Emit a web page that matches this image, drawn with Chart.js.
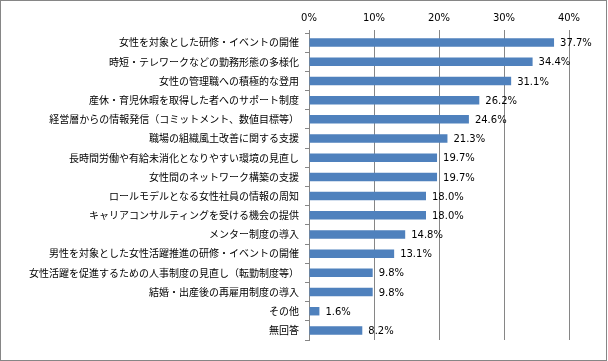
<!DOCTYPE html>
<html lang="ja">
<head>
<meta charset="utf-8">
<title>女性活躍推進の取組</title>
<script src="https://cdn.jsdelivr.net/npm/chart.js@4/dist/chart.umd.min.js"></script>
<style>
    html, body { margin: 0; padding: 0; background: #ffffff; }
    .chart-box {
        width: 607px;
        height: 361px;
        border: 1px solid #868686;
        box-sizing: border-box;
        background: #ffffff;
    }
    canvas { display: block; }
</style>
</head>
<body>
<div class="chart-box">
    <canvas id="measuresChart" width="605" height="359"></canvas>
</div>
<script>
// 項目
const categories = [
    '女性を対象とした研修・イベントの開催',
    '時短・テレワークなどの勤務形態の多様化',
    '女性の管理職への積極的な登用',
    '産休・育児休暇を取得した者へのサポート制度',
    '経営層からの情報発信（コミットメント、数値目標等）',
    '職場の組織風土改善に関する支援',
    '長時間労働や有給未消化となりやすい環境の見直し',
    '女性間のネットワーク構築の支援',
    'ロールモデルとなる女性社員の情報の周知',
    'キャリアコンサルティングを受ける機会の提供',
    'メンター制度の導入',
    '男性を対象とした女性活躍推進の研修・イベントの開催',
    '女性活躍を促進するための人事制度の見直し（転勤制度等）',
    '結婚・出産後の再雇用制度の導入',
    'その他',
    '無回答'
];

// 回答割合 (%)
const shares = [37.7, 34.4, 31.1, 26.2, 24.6, 21.3, 19.7, 19.7, 18.0, 18.0, 14.8, 13.1, 9.8, 9.8, 1.6, 8.2];

// 目盛り (%)
const xTicks = [0, 10, 20, 30, 40];

const gridGray = '#868686';
const barBlue = '#4f81bd';

// バーの右側に数値ラベルを描く
const valueLabels = {
    id: 'valueLabels',
    afterDatasetsDraw(chart) {
        const ctx = chart.ctx;
        const meta = chart.getDatasetMeta(0);
        ctx.save();
        ctx.font = '10px "DejaVu Sans", sans-serif';
        ctx.fillStyle = '#000000';
        ctx.textAlign = 'left';
        ctx.textBaseline = 'middle';
        meta.data.forEach((bar, i) => {
            ctx.fillText(shares[i].toFixed(1) + '%', bar.x + 6, bar.y + 1);
        });
        ctx.restore();
    }
};

new Chart(document.getElementById('measuresChart'), {
    type: 'bar',
    data: {
        labels: categories,
        datasets: [{
            data: shares,
            backgroundColor: barBlue,
            borderWidth: 0,
            categoryPercentage: 1,
            barPercentage: 0.44
        }]
    },
    options: {
        indexAxis: 'y',
        responsive: false,
        animation: false,
        layout: {
            padding: { left: 0, right: 37, top: 0, bottom: 20 }
        },
        plugins: {
            legend: { display: false },
            tooltip: { enabled: false }
        },
        scales: {
            x: {
                position: 'top',
                min: xTicks[0],
                max: xTicks[xTicks.length - 1],
                afterBuildTicks: scale => {
                    scale.ticks = xTicks.map(v => ({ value: v }));
                },
                afterFit: scale => { scale.height = 32; },
                ticks: {
                    padding: 6,
                    color: '#000000',
                    font: { family: '"DejaVu Sans", sans-serif', size: 10 },
                    callback: v => v + '%'
                },
                grid: {
                    color: gridGray,
                    lineWidth: 1,
                    tickLength: 3
                },
                border: { display: false }
            },
            y: {
                afterFit: scale => { scale.width = 308; },
                ticks: {
                    autoSkip: false,
                    padding: 6,
                    color: '#000000',
                    font: { family: '"Noto Sans CJK JP", sans-serif', size: 10 }
                },
                grid: {
                    drawOnChartArea: false,
                    color: gridGray,
                    tickLength: 4
                },
                border: { display: true, color: gridGray }
            }
        }
    },
    plugins: [valueLabels]
});
</script>
</body>
</html>
